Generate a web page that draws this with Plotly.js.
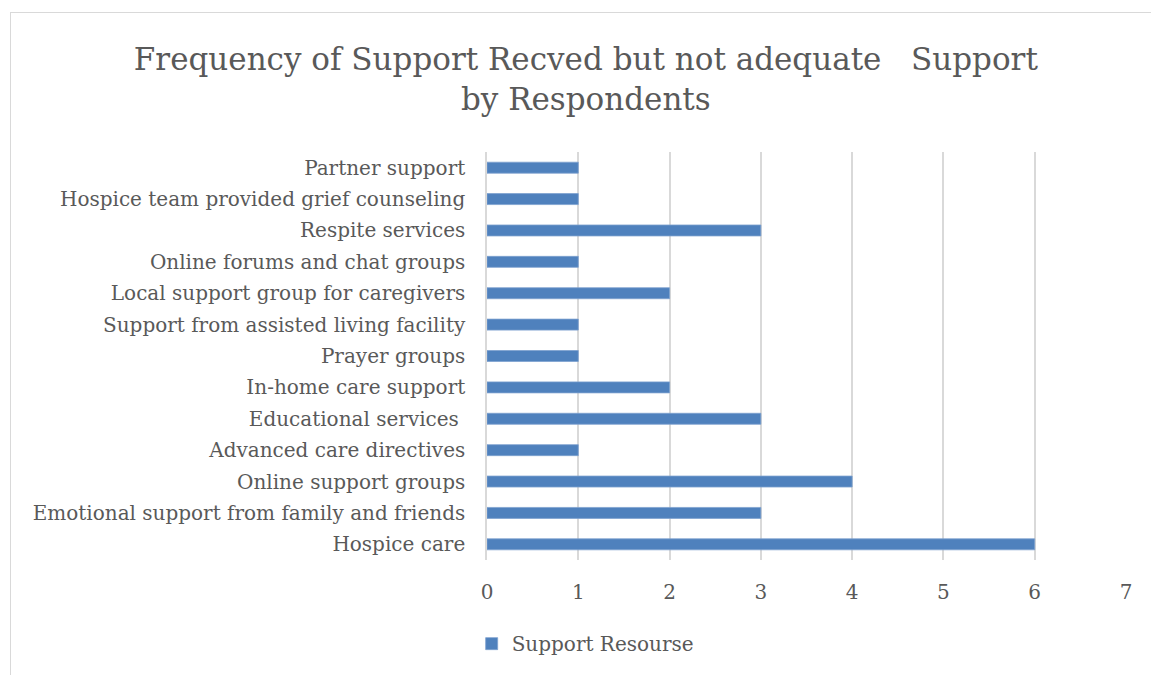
<!DOCTYPE html>
<html>
<head>
<meta charset="utf-8">
<script src="https://cdn.plot.ly/plotly-3.0.1.min.js"></script>
<style>
  html, body { margin: 0; padding: 0; background: #fff; }
  #frame { position: absolute; left: 10px; top: 12px; width: 1150px; height: 680px; border: 1.5px solid #d9d9d9; box-sizing: border-box; }
  #chart { position: absolute; left: 0; top: 0; width: 1151px; height: 675px; }
</style>
</head>
<body>
<div id="frame"></div>
<div id="chart"></div>
<script>
const categories = [
  "Hospice care",
  "Emotional support from family and friends",
  "Online support groups",
  "Advanced care directives",
  "Educational services\u00a0",
  "In-home care support",
  "Prayer groups",
  "Support from assisted living facility",
  "Local support group for caregivers",
  "Online forums and chat groups",
  "Respite services",
  "Hospice team provided grief counseling",
  "Partner support"
];
const values = [6, 3, 4, 1, 3, 2, 1, 1, 2, 1, 3, 1, 1];
const seriesName = "Support Resourse";
const xTicks = [0, 1, 2, 3, 4, 5, 6, 7];

const font = "DejaVu Serif, serif";
const grey = "#595959";

const trace = {
  type: "bar",
  orientation: "h",
  y: categories,
  x: values,
  name: seriesName,
  marker: { color: "#4f81bd", line: { color: "#7ea1cf", width: 0.8 } },
  hoverinfo: "x+y"
};

const layout = {
  width: 1151,
  height: 675,
  paper_bgcolor: "rgba(0,0,0,0)",
  plot_bgcolor: "rgba(0,0,0,0)",
  margin: { l: 487, r: 25, t: 152, b: 111 },
  bargap: 0.65,
  showlegend: true,
  title: {
    text: "Frequency of Support Recved but not adequate\u00a0\u00a0\u00a0Support<br>by Respondents",
    font: { family: font, size: 31, color: grey },
    x: 0.509, xanchor: "center", xref: "container",
    y: 0.897, yanchor: "middle", yref: "container"
  },
  xaxis: {
    range: [0, 7],
    tickvals: xTicks,
    ticktext: xTicks.map(String),
    showgrid: true,
    gridcolor: "#d9d9d9",
    gridwidth: 1.5,
    zeroline: false,
    showline: false,
    ticks: "",
    ticklabelstandoff: 18,
    tickfont: { family: font, size: 20, color: grey },
    fixedrange: true
  },
  yaxis: {
    type: "category",
    categoryorder: "array",
    categoryarray: categories,
    range: [-0.5, categories.length - 0.5],
    showline: true,
    linecolor: "#d9d9d9",
    linewidth: 1.5,
    showgrid: false,
    ticks: "",
    ticklabelstandoff: 16,
    tickfont: { family: font, size: 20, color: grey },
    fixedrange: true
  },
  legend: {
    orientation: "h",
    x: -0.024, xanchor: "left",
    y: -0.205, yanchor: "middle",
    font: { family: font, size: 20, color: grey },
    itemclick: false
  }
};

Plotly.newPlot("chart", [trace], layout, { displayModeBar: false, staticPlot: false });
</script>
</body>
</html>
